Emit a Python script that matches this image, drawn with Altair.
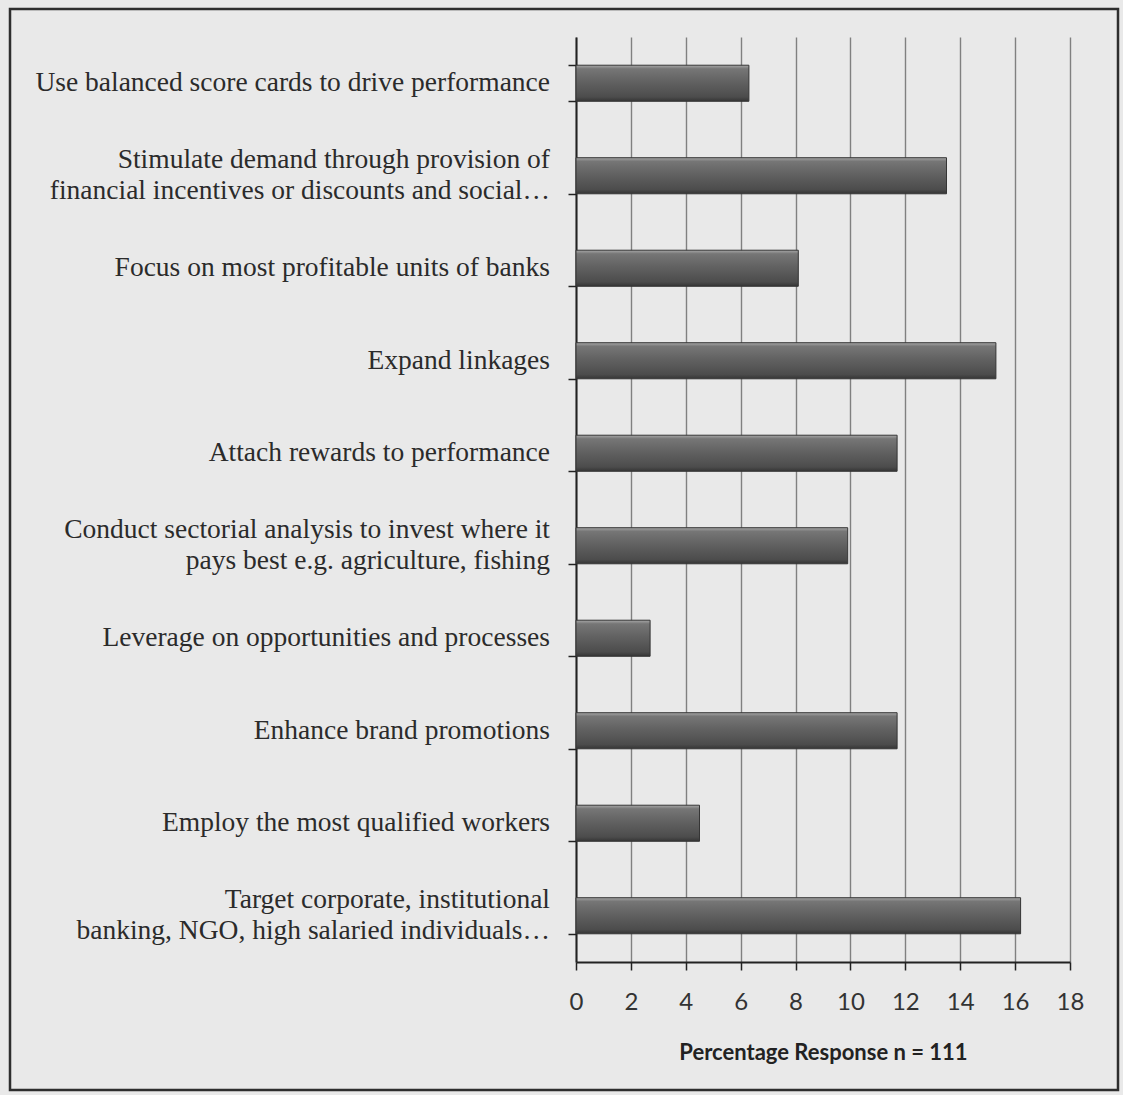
import altair as alt
import pandas as pd

# Strategies, top to bottom; "|" marks a line break in the label
strategies = [
    "Use balanced score cards to drive performance",
    "Stimulate demand through provision of|financial incentives or discounts and social…",
    "Focus on most profitable units of banks",
    "Expand linkages",
    "Attach rewards to performance",
    "Conduct sectorial analysis to invest where it|pays best  e.g. agriculture, fishing",
    "Leverage on opportunities and processes",
    "Enhance brand promotions",
    "Employ the most qualified workers",
    "Target corporate, institutional|banking, NGO, high salaried individuals…",
]

# Percentage of respondents (n = 111)
percent = [6.3, 13.5, 8.1, 15.3, 11.7, 9.9, 2.7, 11.7, 4.5, 16.2]

x_ticks = [0, 2, 4, 6, 8, 10, 12, 14, 16, 18]

df = pd.DataFrame({"strategy": strategies, "percent": percent})

# bevelled grey bar fill
bar_fill = alt.Gradient(
    gradient="linear",
    x1=0, x2=0, y1=0, y2=1,
    stops=[
        alt.GradientStop(offset=0.0, color="#a8a8a8"),
        alt.GradientStop(offset=0.1, color="#767676"),
        alt.GradientStop(offset=0.45, color="#626262"),
        alt.GradientStop(offset=0.88, color="#4c4c4c"),
        alt.GradientStop(offset=1.0, color="#353535"),
    ],
)

y_enc = alt.Y(
    "strategy:N",
    sort=strategies,
    scale=alt.Scale(paddingInner=0.61, paddingOuter=0.305),
    axis=alt.Axis(
        title=None,
        labels=False,
        tickBand="extent",
        tickSize=8,
        tickColor="#222222",
        tickWidth=1.5,
        domainColor="#222222",
        domainWidth=2,
        grid=False,
    ),
)

bars = alt.Chart(df).mark_bar(
    fill=bar_fill, stroke="#353535", strokeWidth=1
).encode(
    y=y_enc,
    x=alt.X(
        "percent:Q",
        scale=alt.Scale(domain=[0, 18], nice=False),
        axis=alt.Axis(
            values=x_ticks,
            title="Percentage Response n = 111",
            titleFont="Lato",
            titleFontWeight="bold",
            titleFontSize=22,
            titleColor="#222222",
            titlePadding=28,
            labelFont="Lato",
            labelFontSize=24,
            labelColor="#333333",
            labelPadding=20,
            labelFlush=False,
            tickSize=8,
            tickColor="#222222",
            tickWidth=1.5,
            domainColor="#222222",
            domainWidth=2,
            grid=True,
            gridColor="#808080",
            gridWidth=1.4,
        ),
    ),
)

# category labels: one-line labels centred on the bar, two-line labels
# centred as a block (line-bottom baseline lifts the first line)
label_style = dict(
    align="right",
    font="Liberation Serif",
    fontSize=27.5,
    lineHeight=31,
    lineBreak="|",
    color="#2b2b2b",
    dx=-26,
)

single_labels = alt.Chart(df).transform_filter(
    "indexof(datum.strategy, '|') < 0"
).mark_text(baseline="middle", **label_style).encode(
    y=alt.Y("strategy:N", sort=strategies), x=alt.value(0), text="strategy:N"
)

double_labels = alt.Chart(df).transform_filter(
    "indexof(datum.strategy, '|') >= 0"
).mark_text(baseline="line-bottom", **label_style).encode(
    y=alt.Y("strategy:N", sort=strategies), x=alt.value(0), text="strategy:N"
)

# page frame around the figure
frame = alt.Chart(pd.DataFrame({"frame": [0]})).mark_rect(
    fill="transparent", stroke="#2e2e2e", strokeWidth=2.5
).encode(
    x=alt.value(-566), x2=alt.value(542), y=alt.value(-28), y2=alt.value(1053)
)

chart = alt.layer(bars, single_labels, double_labels, frame).properties(
    width=494,
    height=925,
    autosize=alt.AutoSizeParams(type="none"),
    padding={"left": 576, "top": 37, "right": 53, "bottom": 133},
    background="#e9e9e9",
).configure_view(strokeWidth=0)

chart.save("out.html", embed_options={"renderer": "svg", "actions": False})
